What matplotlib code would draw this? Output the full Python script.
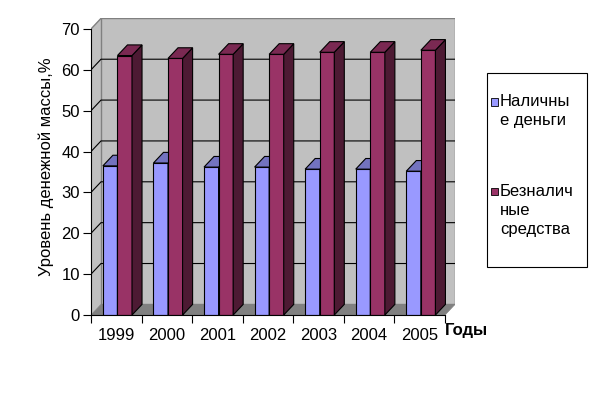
import matplotlib.pyplot as plt
from matplotlib.patches import Rectangle, Polygon

plt.rcParams['font.family'] = ['Liberation Sans', 'DejaVu Sans']

years = ['1999', '2000', '2001', '2002', '2003', '2004', '2005']
cash = [36.5, 37.2, 36.2, 36.2, 35.7, 35.7, 35.2]
noncash = [63.5, 62.8, 63.8, 63.8, 64.3, 64.3, 64.8]
series_names = ['Наличны\nе деньги', 'Безналич\nные\nсредства']

# pseudo 3d depth in data units
DX = 0.198
DY = 2.6
OFF = 0.235
W = 0.288
FS = 12

fig = plt.figure(figsize=(5.95, 3.98), dpi=100)
ax = fig.add_axes([91 / 595, 83 / 398, 364 / 595, (70 + DY) * 4.086 / 398])
n = len(years)
ax.set_xlim(0, n + DX)
ax.set_ylim(0, 70 + DY)

# walls and floor
ax.add_patch(Polygon([(0, 0), (0, 70), (DX, 70 + DY), (DX, DY)], closed=True,
                     facecolor='#c0c0c0', edgecolor='none', zorder=0))
ax.add_patch(Rectangle((DX, DY), n, 70, facecolor='#c0c0c0', edgecolor='#808080',
                       lw=1, zorder=0))
ax.plot([0, DX], [70, 70 + DY], color='#808080', lw=1, zorder=0.5)
for v in range(10, 70, 10):
    ax.plot([0, DX, n + DX], [v, v + DY, v + DY], color='black', lw=0.8, zorder=0.5)
ax.add_patch(Polygon([(0, 0), (n, 0), (n + DX, DY), (DX, DY)], closed=True,
                     facecolor='#808080', edgecolor='#808080', lw=0.5, zorder=1))

# bars
fronts = [('#9999ff', '#7373bf', '#5c5c99'), ('#993366', '#7a2952', '#4d1a33')]
for s, vals in enumerate([cash, noncash]):
    face, top, side = fronts[s]
    lefts = [i + OFF + s * W for i in range(n)]
    ax.bar(lefts, vals, width=W, align='edge', color=face, edgecolor='black',
           lw=0.8, zorder=2 + s)
    for x0, v in zip(lefts, vals):
        ax.add_patch(Polygon([(x0 + W, 0), (x0 + W + DX, DY), (x0 + W + DX, v + DY), (x0 + W, v)],
                             closed=True, facecolor=side, edgecolor='black', lw=0.8, zorder=2 + s))
        ax.add_patch(Polygon([(x0, v), (x0 + DX, v + DY), (x0 + W + DX, v + DY), (x0 + W, v)],
                             closed=True, facecolor=top, edgecolor='black', lw=0.8, zorder=2 + s))

# axes
for side in ['top', 'right']:
    ax.spines[side].set_visible(False)
ax.spines['left'].set_bounds(0, 70)
ax.spines['bottom'].set_bounds(0, n)
ax.spines['bottom'].set_zorder(5)
ax.set_yticks(range(0, 80, 10))
ax.tick_params(axis='y', length=6, width=0.8, labelsize=FS, pad=2)
ax.set_xticks(range(n + 1))
ax.set_xticklabels([])
ax.set_xticks([i + 0.5 for i in range(n)], minor=True)
ax.set_xticklabels(years, minor=True, fontsize=FS)
ax.tick_params(axis='x', which='major', length=6, width=0.8)
ax.tick_params(axis='x', which='minor', length=0, pad=9)
ax.set_ylabel('Уровень денежной массы,%', fontsize=FS, labelpad=5)
fig.text(445 / 595, 1 - 331 / 398, 'Годы', fontsize=FS, fontweight='bold',
         ha='left', va='center')

# legend
fig.add_artist(Rectangle((487 / 595, 1 - 267 / 398), 100 / 595, 194 / 398,
                         transform=fig.transFigure, facecolor='white', edgecolor='black', lw=0.8))
leg_y = [102, 192]
for s, name in enumerate(series_names):
    fig.add_artist(Rectangle((491 / 595, 1 - (leg_y[s] + 3.5) / 398), 7 / 595, 7 / 398,
                             transform=fig.transFigure, facecolor=fronts[s][0],
                             edgecolor='black', lw=0.6))
    fig.text(500 / 595, 1 - (leg_y[s] - 8) / 398, name, fontsize=FS, ha='left', va='top',
             linespacing=1.35)

fig.savefig('out.png', dpi=100)
